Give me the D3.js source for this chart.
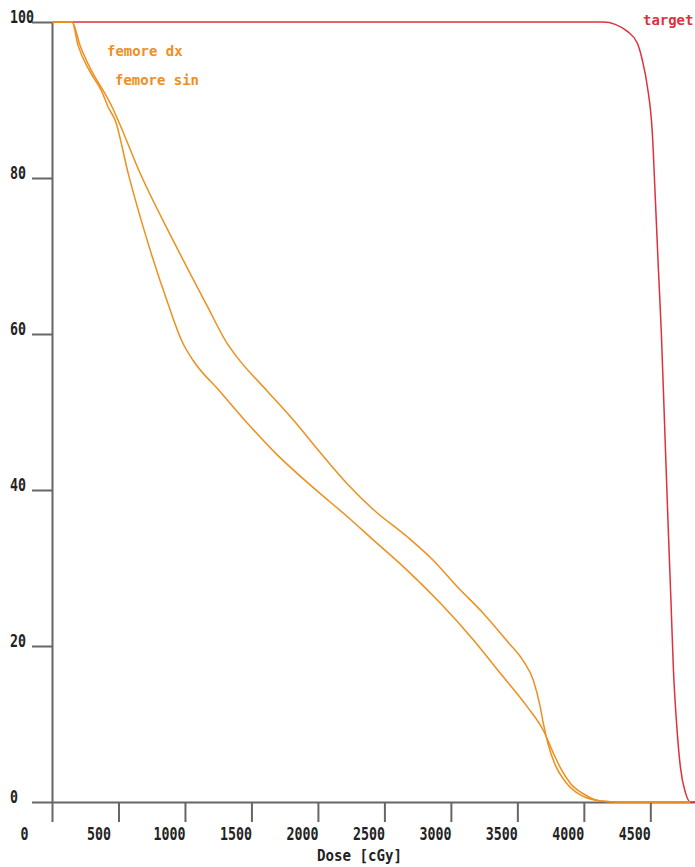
<!DOCTYPE html>
<html>
<head>
<meta charset="utf-8">
<script src="https://cdn.jsdelivr.net/npm/d3@7"></script>
<style>
  body { margin: 0; background: #fff; }
  svg { display: block; }
</style>
</head>
<body>
<script>
// DVH curves: dose in cGy, volume in %
const doseDx = [0, 151, 211, 302, 392, 452, 497, 663, 911, 1167, 1310, 1393, 1618, 1814, 2017, 2220, 2416, 2672, 2867, 3048, 3243, 3424, 3544, 3620, 3672, 3695, 3733, 3786, 3861, 3974, 4124, 4275, 4800];
const volDx  = [100, 100, 97.0, 93.6, 91.0, 89.1, 87.4, 80.6, 72.0, 63.6, 59.0, 57.0, 52.7, 49.0, 44.8, 40.8, 37.5, 34.0, 31.0, 27.6, 24.2, 20.6, 18.1, 15.6, 12.2, 10.1, 7.3, 4.7, 2.6, 0.9, 0.13, 0, 0];

const doseSin = [0, 151, 196, 287, 377, 422, 475, 573, 716, 874, 979, 1062, 1265, 1468, 1694, 1965, 2220, 2416, 2672, 2920, 3168, 3372, 3575, 3695, 3770, 3823, 3898, 4011, 4124, 4275, 4800];
const volSin  = [100, 100, 97.0, 93.6, 91.0, 89.1, 87.4, 80.6, 72.0, 63.8, 59.0, 56.6, 52.6, 48.6, 44.5, 40.3, 36.6, 33.6, 29.7, 25.5, 20.8, 16.5, 12.2, 9.2, 6.3, 4.4, 2.4, 0.9, 0.13, 0, 0];

const doseTarget = [0, 4146, 4236, 4327, 4402, 4440, 4478, 4515, 4538, 4560, 4583, 4606, 4636, 4655, 4673, 4703, 4726, 4764, 4801, 4836];
const volTarget  = [100, 100, 99.7, 98.8, 97.3, 95.1, 91.7, 85.8, 77.2, 68.6, 60.1, 49.0, 34.5, 25.9, 17.3, 8.8, 4.5, 1.2, 0, 0];

const xTicks = [0, 500, 1000, 1500, 2000, 2500, 3000, 3500, 4000, 4500];
const yTicks = [0, 20, 40, 60, 80, 100];

const W = 695, H = 867;
const orange = '#ee8f1e', red = '#e0303c', axisCol = '#666';

const x = d3.scaleLinear().domain([0, 4836]).range([52, 695]);
const y = d3.scaleLinear().domain([0, 100]).range([802, 22]);

const svg = d3.select('body').append('svg')
    .attr('width', W)
    .attr('height', H);

const monoFont = 'DejaVu Sans Mono, Liberation Mono, monospace';

// x axis
const gx = svg.append('g')
    .attr('transform', `translate(0, ${y(0)})`)
    .call(d3.axisBottom(x).tickValues(xTicks).tickSize(20).tickSizeOuter(0).tickFormat(d3.format('d')));
gx.select('.domain').attr('stroke', axisCol).attr('stroke-width', 2);
gx.selectAll('.tick line').attr('stroke', axisCol).attr('stroke-width', 2);
gx.selectAll('.tick text')
    .attr('fill', '#222')
    .attr('font-family', monoFont)
    .attr('font-weight', 'bold')
    .attr('font-size', 17)
    .attr('text-anchor', 'start')
    .attr('x', -32)
    .attr('y', 38)
    .attr('dy', null)
    .attr('textLength', d => String(d).length * 8)
    .attr('lengthAdjust', 'spacingAndGlyphs');

// y axis
const gy = svg.append('g')
    .attr('transform', `translate(${x(0)}, 0)`)
    .call(d3.axisLeft(y).tickValues(yTicks).tickSize(20).tickSizeOuter(0));
gy.select('.domain').attr('stroke', axisCol).attr('stroke-width', 2);
gy.selectAll('.tick line').attr('stroke', axisCol).attr('stroke-width', 2);
gy.selectAll('.tick text')
    .attr('fill', '#222')
    .attr('font-family', monoFont)
    .attr('font-weight', 'bold')
    .attr('font-size', 17)
    .attr('text-anchor', 'start')
    .attr('x', 10 - x(0))
    .attr('y', 0)
    .attr('dy', null)
    .attr('textLength', d => String(d).length * 8)
    .attr('lengthAdjust', 'spacingAndGlyphs');

svg.append('text')
    .attr('x', 317)
    .attr('y', 861)
    .attr('fill', '#222')
    .attr('font-family', monoFont)
    .attr('font-weight', 'bold')
    .attr('font-size', 16)
    .attr('textLength', 85)
    .attr('lengthAdjust', 'spacingAndGlyphs')
    .text('Dose [cGy]');

// curves
const line = d3.line()
    .x(d => x(d[0]))
    .y(d => y(d[1]))
    .curve(d3.curveMonotoneX);

const series = [
    { dose: doseTarget, vol: volTarget, color: red },
    { dose: doseSin, vol: volSin, color: orange },
    { dose: doseDx, vol: volDx, color: orange }
];

svg.selectAll('path.dvh')
    .data(series)
    .enter()
    .append('path')
    .attr('class', 'dvh')
    .attr('fill', 'none')
    .attr('stroke', d => d.color)
    .attr('stroke-width', 1.5)
    .attr('d', d => line(d.dose.map((v, i) => [v, d.vol[i]])));

// curve labels
const labels = [
    { text: 'femore dx', x: 107, y: 56, color: orange },
    { text: 'femore sin', x: 115, y: 85, color: orange },
    { text: 'target', x: 643, y: 25, color: red }
];
svg.selectAll('text.lbl')
    .data(labels)
    .enter()
    .append('text')
    .attr('class', 'lbl')
    .attr('x', d => d.x)
    .attr('y', d => d.y)
    .attr('fill', d => d.color)
    .attr('font-family', monoFont)
    .attr('font-weight', 'bold')
    .attr('font-size', 14)
    .attr('textLength', d => d.text.length * 8.4)
    .attr('lengthAdjust', 'spacingAndGlyphs')
    .text(d => d.text);
</script>
</body>
</html>
